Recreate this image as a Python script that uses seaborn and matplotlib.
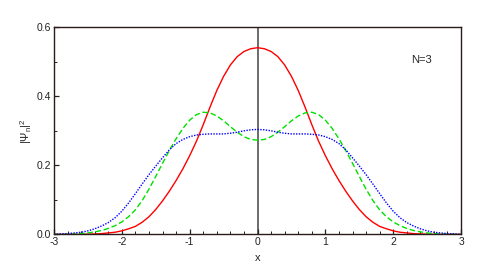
import matplotlib
matplotlib.use("Agg")
import matplotlib.pyplot as plt
from matplotlib.ticker import MultipleLocator, FormatStrFormatter
import pandas as pd
import seaborn as sns


# values at x = 0.0, 0.1, ... 3.0 (curves are symmetric about x=0)
x_half = [round(0.1 * i, 1) for i in range(31)]

red_half = [0.541, 0.538, 0.530, 0.515, 0.491, 0.458, 0.417, 0.369, 0.318, 0.270,
            0.228, 0.190, 0.156, 0.125, 0.097, 0.072, 0.051, 0.035, 0.023, 0.016,
            0.010, 0.006, 0.004, 0.002, 0.001, 0.0005, 0.0, 0.0, 0.0, 0.0, 0.0]

green_half = [0.273, 0.275, 0.283, 0.296, 0.312, 0.329, 0.343, 0.352, 0.354, 0.347,
              0.331, 0.307, 0.277, 0.243, 0.206, 0.168, 0.131, 0.098, 0.071, 0.051,
              0.036, 0.025, 0.017, 0.011, 0.007, 0.004, 0.002, 0.001, 0.0005, 0.0, 0.0]

blue_half = [0.304, 0.303, 0.300, 0.296, 0.293, 0.291, 0.291, 0.291, 0.290, 0.288,
             0.283, 0.275, 0.263, 0.245, 0.222, 0.198, 0.173, 0.146, 0.118, 0.091,
             0.067, 0.048, 0.034, 0.024, 0.016, 0.010, 0.006, 0.004, 0.002, 0.001, 0.0]


def full(half):
    # mirror the x>=0 readings onto x<0
    return list(half[:0:-1]) + list(half)


xs = [-v for v in x_half[:0:-1]] + x_half

series = [
    ("red", full(red_half), "#ff0000", "-"),
    ("green", full(green_half), "#00e000", (0, (4, 2))),
    ("blue", full(blue_half), "#0000ff", (0, (1, 1))),
]

sns.set_style("ticks")
plt.rcParams["font.family"] = ["Liberation Sans", "DejaVu Sans"]
plt.rcParams["mathtext.fontset"] = "custom"
plt.rcParams["mathtext.rm"] = "Liberation Sans"
plt.rcParams["mathtext.it"] = "Liberation Sans"

fig = plt.figure(figsize=(4.91, 2.71), dpi=100)
ax = fig.add_axes([0.110, 0.1354, 0.829, 0.7637])

for name, ys, color, ls in series:
    df = pd.DataFrame({"x": xs, "y": ys})
    sns.lineplot(data=df, x="x", y="y", ax=ax, color=color, linestyle=ls,
                 linewidth=1.0, sort=False)

ax.axvline(0, color="#444444", linewidth=1.1, zorder=0)

ax.set_xlim(-3, 3)
ax.set_ylim(0, 0.6)
ax.xaxis.set_major_locator(MultipleLocator(1))
ax.xaxis.set_minor_locator(MultipleLocator(0.2))
ax.yaxis.set_major_locator(MultipleLocator(0.2))
ax.yaxis.set_minor_locator(MultipleLocator(0.1))
ax.xaxis.set_major_formatter(FormatStrFormatter("%d"))
ax.yaxis.set_major_formatter(FormatStrFormatter("%.1f"))
ax.tick_params(which="both", direction="in", top=False, right=False,
               labelsize=7.5, colors="#222222", pad=2)
ax.tick_params(which="major", length=3.5, width=0.9)
ax.tick_params(which="minor", length=2, width=0.7)
for sp in ax.spines.values():
    sp.set_visible(True)
    sp.set_linewidth(1.0)
    sp.set_color("#2a1a1a")

ax.set_xlabel("x", fontsize=8, labelpad=4)
ax.set_ylabel(r"$|\Psi_n|^2$", fontsize=8, labelpad=2)
ax.text(2.42, 0.505, "N=3", fontsize=8, ha="center", va="center")

fig.savefig("out.png", dpi=100)
